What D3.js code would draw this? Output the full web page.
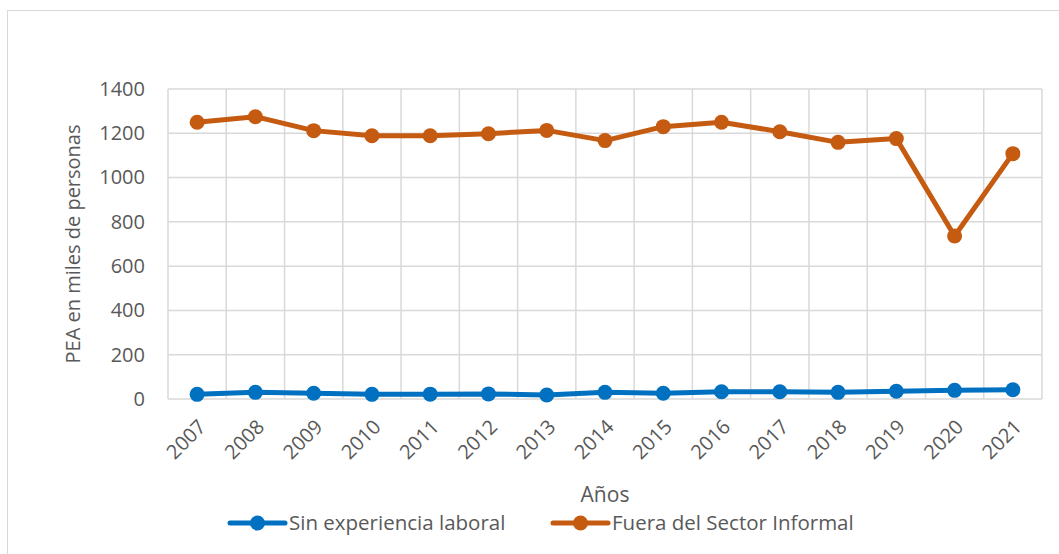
<!DOCTYPE html>
<html>
<head>
<meta charset="utf-8">
<script src="https://cdn.jsdelivr.net/npm/d3@7"></script>
<style>
  body { margin: 0; background: #fff; }
  svg { display: block; font-family: "Open Sans", sans-serif; }
</style>
</head>
<body>
<svg width="1059" height="554"></svg>
<script>
var years = ["2007","2008","2009","2010","2011","2012","2013","2014","2015","2016","2017","2018","2019","2020","2021"];
var sinExperiencia = [21, 30, 26, 21, 22, 23, 18, 30, 26, 33, 33, 30, 35, 39, 42];
var fueraSector = [1250, 1275, 1212, 1189, 1189, 1198, 1213, 1167, 1230, 1250, 1207, 1159, 1176, 736, 1108];
var yTicks = [0, 200, 400, 600, 800, 1000, 1200, 1400];

var series = [
  {name: "Sin experiencia laboral", values: sinExperiencia, color: "#0070C0"},
  {name: "Fuera del Sector Informal", values: fueraSector, color: "#C55A11"}
];

var margin = {left: 168, right: 17, top: 89, bottom: 155};
var width = 1059, height = 554;
var textColor = "#595959";

var svg = d3.select("svg");

// outer chart border
svg.append("rect")
  .attr("x", 7.5).attr("y", 10.5)
  .attr("width", 1100).attr("height", 600)
  .attr("fill", "none").attr("stroke", "#d9d9d9").attr("stroke-width", 1);

var x = d3.scaleBand()
  .domain(years)
  .range([margin.left, width - margin.right]);

var y = d3.scaleLinear()
  .domain([0, 1400])
  .range([height - margin.bottom, margin.top]);

// horizontal grid
svg.append("g")
  .selectAll("line")
  .data(yTicks)
  .enter().append("line")
  .attr("x1", margin.left).attr("x2", width - margin.right)
  .attr("y1", d => y(d)).attr("y2", d => y(d))
  .attr("stroke", "#d9d9d9").attr("stroke-width", 1.5);

// vertical grid at band edges
var edges = years.map(d => x(d)).concat([x.range()[1]]);
svg.append("g")
  .selectAll("line")
  .data(edges)
  .enter().append("line")
  .attr("x1", d => d).attr("x2", d => d)
  .attr("y1", y(1400)).attr("y2", y(0))
  .attr("stroke", "#d9d9d9").attr("stroke-width", 1.5);

// y axis labels
var yAxis = svg.append("g")
  .attr("transform", `translate(${margin.left},0)`)
  .call(d3.axisLeft(y).tickValues(yTicks).tickFormat(d3.format("d")).tickSize(0).tickPadding(23));
yAxis.select(".domain").remove();
yAxis.selectAll(".tick text")
  .attr("fill", textColor)
  .style("font-family", "Open Sans")
  .style("font-size", "20px");

// x axis labels
var xAxis = svg.append("g")
  .attr("transform", `translate(0,${y(0)})`)
  .call(d3.axisBottom(x).tickSize(0));
xAxis.select(".domain").remove();
xAxis.selectAll(".tick text")
  .attr("fill", textColor)
  .style("font-family", "Open Sans")
  .style("font-size", "20px")
  .attr("text-anchor", "end")
  .attr("dy", "0.35em")
  .attr("transform", "translate(3,22) rotate(-45)");

// axis titles
svg.append("text")
  .attr("transform", `translate(80,${(y(0) + y(1400)) / 2}) rotate(-90)`)
  .attr("text-anchor", "middle")
  .attr("fill", textColor)
  .style("font-size", "20px")
  .text("PEA en miles de personas");

svg.append("text")
  .attr("x", (margin.left + width - margin.right) / 2)
  .attr("y", 502)
  .attr("text-anchor", "middle")
  .attr("fill", textColor)
  .style("font-size", "21px")
  .text("Años");

// lines and markers
var line = d3.line()
  .x((d, i) => x(years[i]) + x.bandwidth() / 2)
  .y(d => y(d));

series.forEach(s => {
  var g = svg.append("g");
  g.append("path")
    .attr("d", line(s.values))
    .attr("fill", "none")
    .attr("stroke", s.color)
    .attr("stroke-width", 5)
    .attr("stroke-linejoin", "round");
  g.selectAll("circle")
    .data(s.values)
    .enter().append("circle")
    .attr("cx", (d, i) => x(years[i]) + x.bandwidth() / 2)
    .attr("cy", d => y(d))
    .attr("r", 7.5)
    .attr("fill", s.color);
});

// legend
var legendX = [230, 553];
var legend = svg.append("g")
  .selectAll("g")
  .data(series)
  .enter().append("g")
  .attr("transform", (d, i) => `translate(${legendX[i]},523)`);
legend.append("line")
  .attr("x1", 0).attr("x2", 55)
  .attr("stroke", d => d.color).attr("stroke-width", 5)
  .attr("stroke-linecap", "round");
legend.append("circle")
  .attr("cx", 27.5).attr("r", 7.5)
  .attr("fill", d => d.color);
legend.append("text")
  .attr("x", 59)
  .attr("dy", "0.35em")
  .attr("fill", textColor)
  .style("font-size", "20.5px")
  .text(d => d.name);
</script>
</body>
</html>
